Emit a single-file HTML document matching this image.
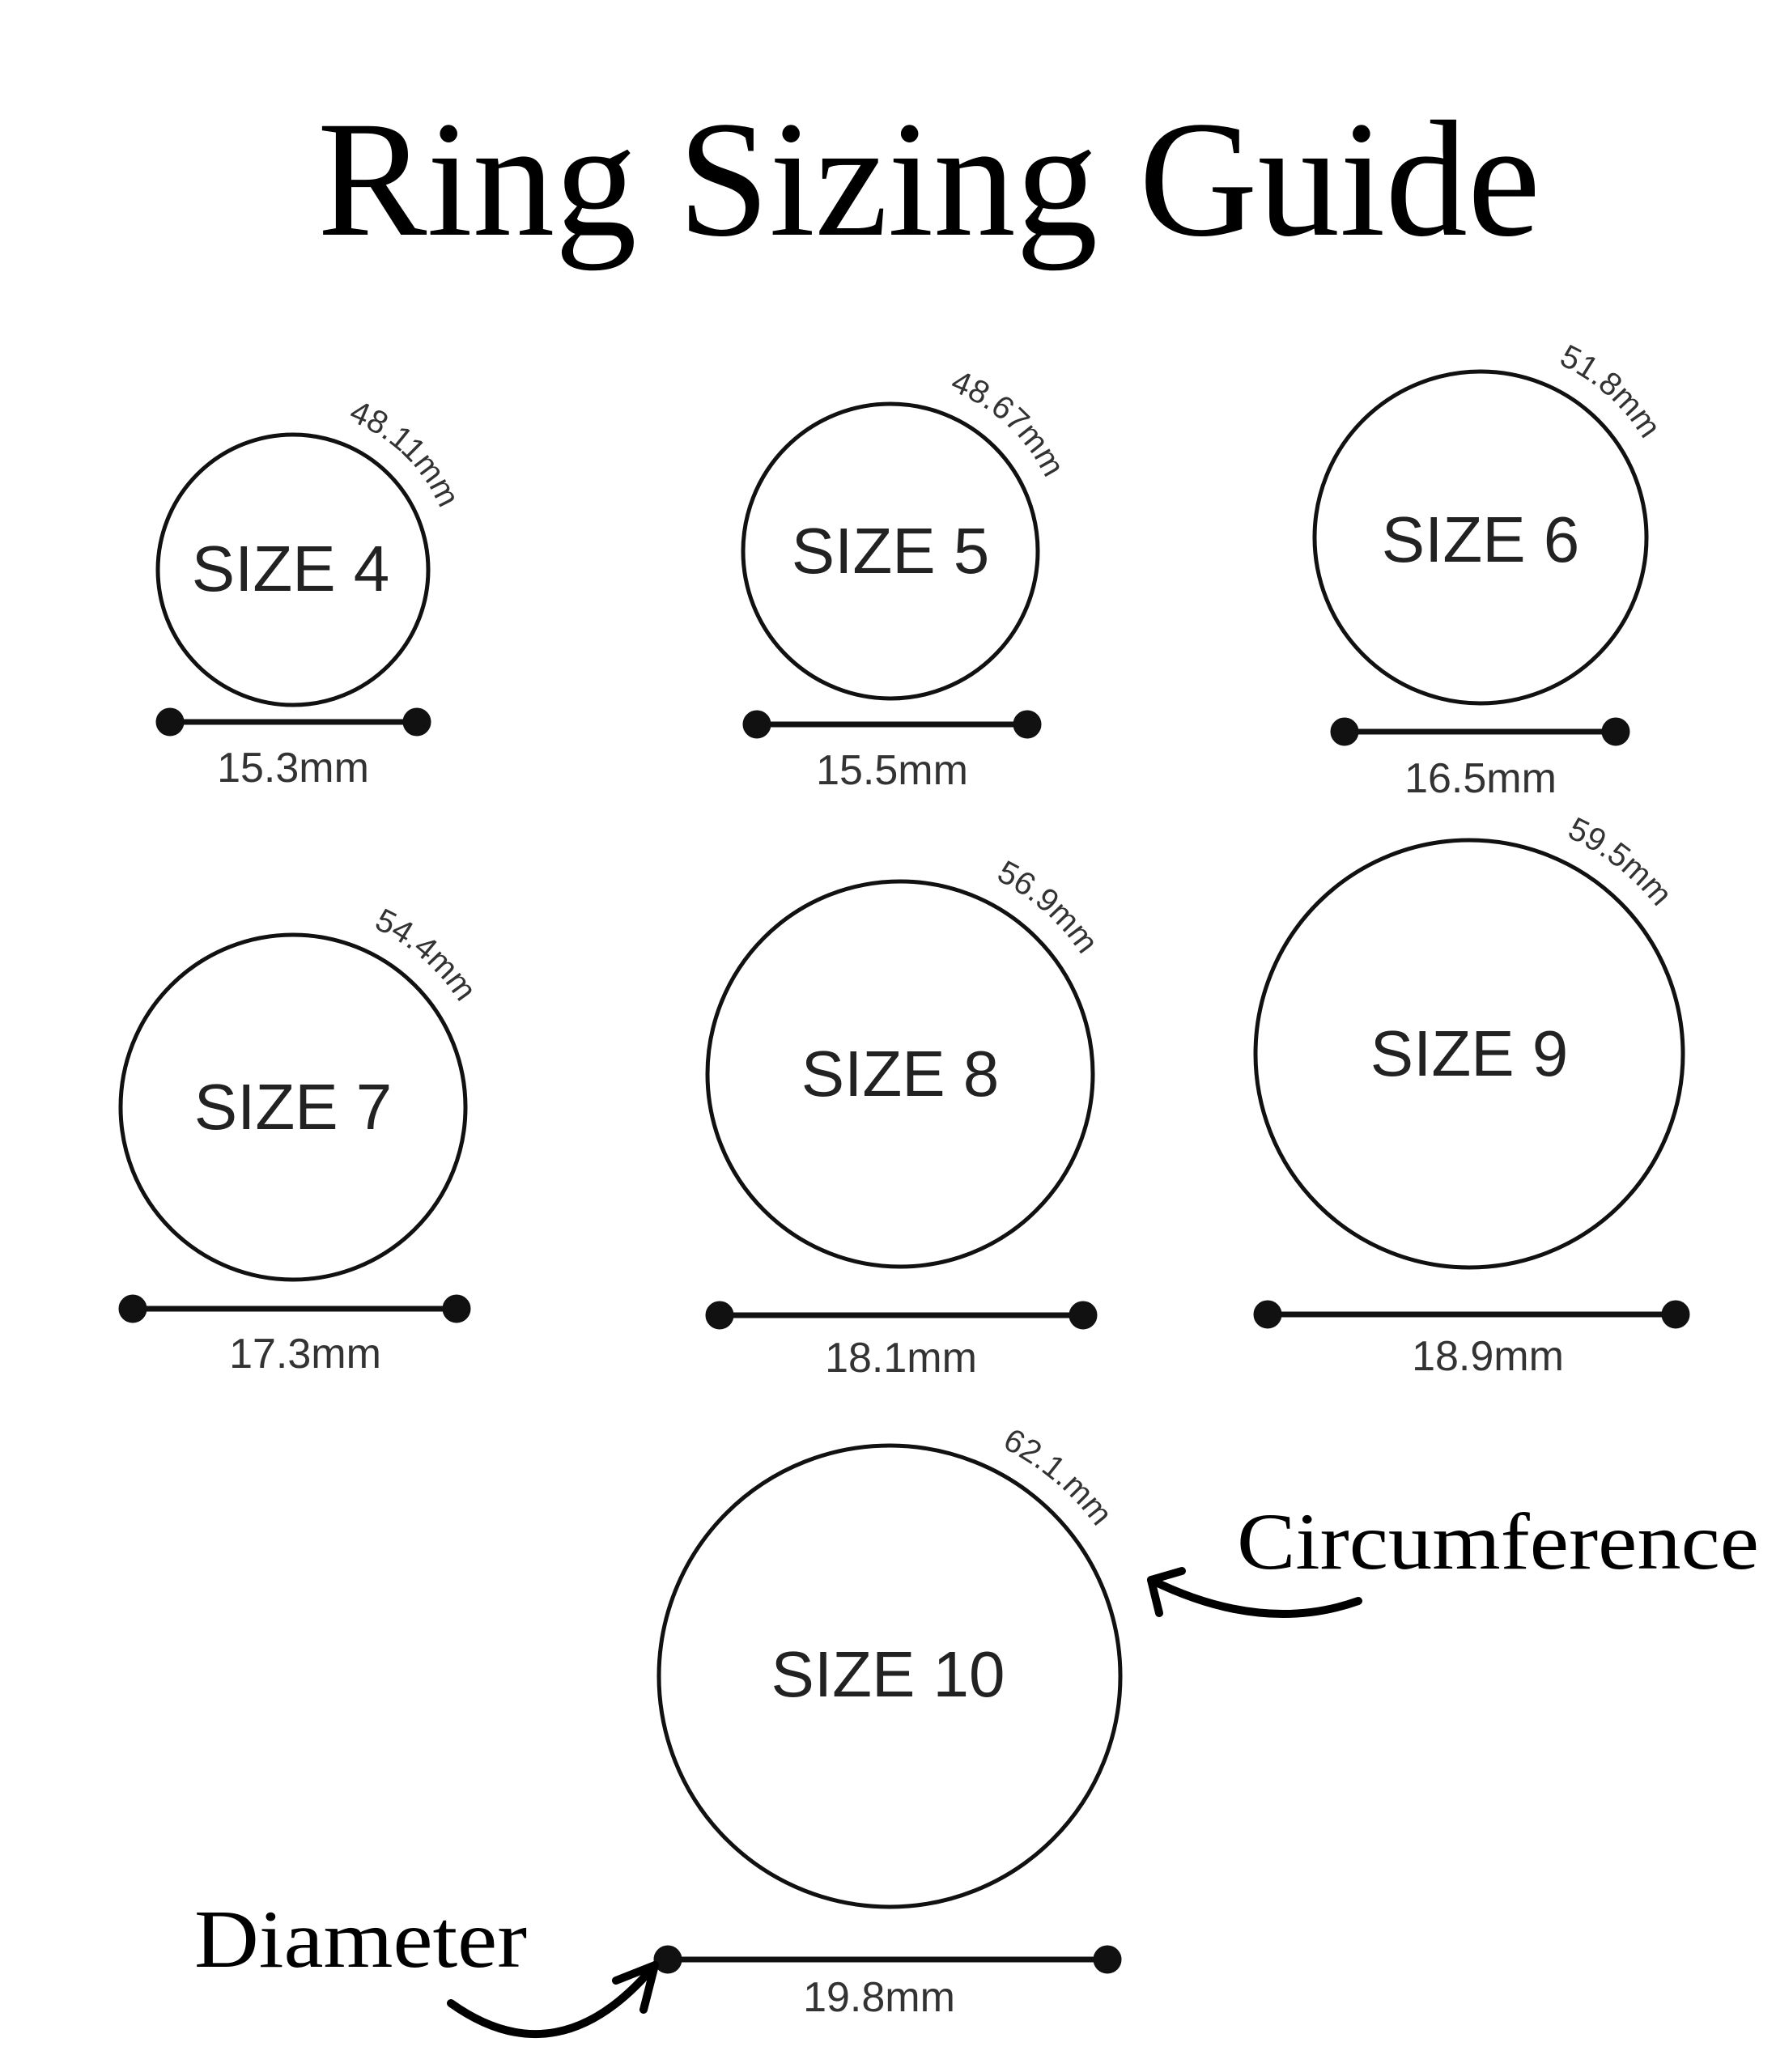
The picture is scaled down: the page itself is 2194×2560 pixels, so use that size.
<!DOCTYPE html>
<html><head><meta charset="utf-8"><style>
html,body{margin:0;padding:0;background:#fff}
svg{display:block}
</style></head><body>
<svg width="2194" height="2560" viewBox="0 0 2194 2560" xmlns="http://www.w3.org/2000/svg">
<rect width="2194" height="2560" fill="#fff"/>
<text x="392" y="290" font-family="Liberation Serif, serif" font-size="205" textLength="1511" lengthAdjust="spacingAndGlyphs" fill="#000">Ring Sizing Guide</text>

<defs>
<path id="a4" d="M 429.4 518.9 A 197 197 0 0 1 556 738.2"/>
<path id="a5" d="M 1172.5 481.8 A 212 212 0 0 1 1308.8 717.8"/>
<path id="a6" d="M 1924.6 449.3 A 235 235 0 0 1 2060.4 704.8"/>
<path id="a7" d="M 460.8 1146.0 A 243 243 0 0 1 601.3 1410.2"/>
<path id="a8" d="M 1229.5 1086.1 A 268 268 0 0 1 1375.9 1373.5"/>
<path id="a9" d="M 1934.6 1033.4 A 294 294 0 0 1 2104.5 1353.1"/>
<path id="a10" d="M 1237.1 1787.9 A 315 315 0 0 1 1409.2 2125.7"/>
</defs>
<g fill="none" stroke="#111" stroke-width="5">
<circle cx="362" cy="704" r="167"/>
<circle cx="1100" cy="681" r="182"/>
<circle cx="1829" cy="664" r="205"/>
<circle cx="362" cy="1368" r="213"/>
<circle cx="1112" cy="1327" r="238"/>
<circle cx="1815" cy="1302" r="264"/>
<circle cx="1099" cy="2071" r="285"/>
</g>
<g stroke="#111" stroke-width="7" fill="#111">
<line x1="210" y1="892" x2="515" y2="892"/><circle cx="210" cy="892" r="14"/><circle cx="515" cy="892" r="14"/>
<line x1="935" y1="895" x2="1269" y2="895"/><circle cx="935" cy="895" r="14"/><circle cx="1269" cy="895" r="14"/>
<line x1="1661" y1="904" x2="1996" y2="904"/><circle cx="1661" cy="904" r="14"/><circle cx="1996" cy="904" r="14"/>
<line x1="164" y1="1617" x2="564" y2="1617"/><circle cx="164" cy="1617" r="14"/><circle cx="564" cy="1617" r="14"/>
<line x1="889" y1="1625" x2="1338" y2="1625"/><circle cx="889" cy="1625" r="14"/><circle cx="1338" cy="1625" r="14"/>
<line x1="1566" y1="1624" x2="2070" y2="1624"/><circle cx="1566" cy="1624" r="14"/><circle cx="2070" cy="1624" r="14"/>
<line x1="825" y1="2421" x2="1368" y2="2421"/><circle cx="825" cy="2421" r="14"/><circle cx="1368" cy="2421" r="14"/>
</g>
<g font-family="Liberation Sans, Arial, sans-serif" font-size="80" fill="#222" text-anchor="middle">
<text x="359" y="730">SIZE 4</text>
<text x="1100" y="708">SIZE 5</text>
<text x="1829" y="694">SIZE 6</text>
<text x="362" y="1395">SIZE 7</text>
<text x="1112" y="1354">SIZE 8</text>
<text x="1815" y="1329">SIZE 9</text>
<text x="1097" y="2096">SIZE 10</text>
</g>
<g font-family="Liberation Sans, Arial, sans-serif" font-size="52" fill="#333" text-anchor="middle">
<text x="362" y="966">15.3mm</text>
<text x="1102" y="969">15.5mm</text>
<text x="1829" y="979">16.5mm</text>
<text x="377" y="1690">17.3mm</text>
<text x="1113" y="1695">18.1mm</text>
<text x="1838" y="1693">18.9mm</text>
<text x="1086" y="2485">19.8mm</text>
</g>
<g font-family="Liberation Sans, Arial, sans-serif" font-size="40" fill="#333">
<text><textPath href="#a4">48.11mm</textPath></text>
<text><textPath href="#a5">48.67mm</textPath></text>
<text><textPath href="#a6">51.8mm</textPath></text>
<text><textPath href="#a7">54.4mm</textPath></text>
<text><textPath href="#a8">56.9mm</textPath></text>
<text><textPath href="#a9">59.5mm</textPath></text>
<text><textPath href="#a10">62.1.mm</textPath></text>
</g>

<text x="1528" y="1938" font-family="Liberation Serif, serif" font-size="100" textLength="645" lengthAdjust="spacingAndGlyphs" fill="#000">Circumference</text>
<text x="240" y="2430" font-family="Liberation Serif, serif" font-size="102" textLength="411" lengthAdjust="spacingAndGlyphs" fill="#000">Diameter</text>

<g fill="none" stroke="#000" stroke-width="10" stroke-linecap="round" stroke-linejoin="round">
<path d="M 1678 1978 Q 1560 2020 1422 1952"/>
<path d="M 1460 1941 L 1422 1952 L 1432 1993"/>
<path d="M 557 2475 Q 690 2570 809 2428"/>
<path d="M 761 2447 L 809 2428 L 795 2483"/>
</g>
</svg>
</body></html>
